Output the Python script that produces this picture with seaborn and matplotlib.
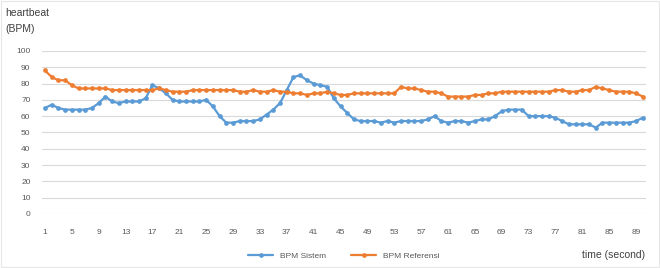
import numpy as np
import pandas as pd
import matplotlib
matplotlib.use("Agg")
import matplotlib.pyplot as plt
import seaborn as sns

# time axis (seconds)
time_sec = list(range(1, 91))

# BPM measured by the system
bpm_sistem = [65, 67, 65, 64, 64, 64, 64, 65, 68, 72,
              69, 68, 69, 69, 69, 71, 79, 77, 74, 70,
              69, 69, 69, 69, 70, 66, 60, 56, 56, 57,
              57, 57, 58, 61, 64, 68, 76, 84, 85, 82,
              80, 79, 78, 71, 66, 62, 58, 57, 57, 57,
              56, 57, 56, 57, 57, 57, 57, 58, 60, 57,
              56, 57, 57, 56, 57, 58, 58, 60, 63, 64,
              64, 64, 60, 60, 60, 60, 59, 57, 55, 55,
              55, 55, 53, 56, 56, 56, 56, 56, 57, 59]

# BPM from the reference device
bpm_referensi = [88, 84, 82, 82, 79, 77, 77, 77, 77, 77,
                 76, 76, 76, 76, 76, 76, 76, 77, 76, 75,
                 75, 75, 76, 76, 76, 76, 76, 76, 76, 75,
                 75, 76, 75, 75, 76, 75, 75, 74, 74, 73,
                 74, 74, 75, 74, 73, 73, 74, 74, 74, 74,
                 74, 74, 74, 78, 77, 77, 76, 75, 75, 74,
                 72, 72, 72, 72, 73, 73, 74, 74, 75, 75,
                 75, 75, 75, 75, 75, 75, 76, 76, 75, 75,
                 76, 76, 78, 77, 76, 75, 75, 75, 74, 72]

x_ticks = list(range(1, 90, 4))
y_ticks = list(range(0, 101, 10))

series_names = ["BPM Sistem", "BPM Referensi"]
colors = ["#5B9BD5", "#ED7D31"]

df = pd.DataFrame({
    "time": time_sec * 2,
    "bpm": bpm_sistem + bpm_referensi,
    "series": [series_names[0]] * len(time_sec) + [series_names[1]] * len(time_sec),
})

sns.set_style("white")
plt.rcParams["font.family"] = ["Liberation Sans", "DejaVu Sans"]

fig = plt.figure(figsize=(6.6, 2.68), dpi=100)
ax = fig.add_axes([0.063, 0.2015, 0.916, 0.6085])

sns.lineplot(
    data=df, x="time", y="bpm", hue="series",
    palette=dict(zip(series_names, colors)),
    marker="o", markersize=3.4, markeredgewidth=0,
    linewidth=1.6, ax=ax, legend=True
)

ax.set_xlim(0.5, 90.5)
ax.set_ylim(0, 100)
ax.set_xticks(x_ticks)
ax.set_yticks(y_ticks)
ax.tick_params(axis="both", labelsize=6, colors="#595959", length=0)
ax.tick_params(axis="x", pad=11)
ax.tick_params(axis="y", pad=8)
ax.yaxis.grid(True, color="#D9D9D9", linewidth=0.8)
ax.set_axisbelow(True)
for s in ax.spines.values():
    s.set_visible(False)
ax.set_xlabel("")
ax.set_ylabel("")

leg = ax.legend(loc="upper center", bbox_to_anchor=(0.5, -0.19), ncol=2,
                frameon=False, fontsize=6, handlelength=3, columnspacing=3)
for t in leg.get_texts():
    t.set_color("#595959")

fig.text(0.008, 0.97, "heartbeat\n(BPM)", fontsize=7.5, color="#404040",
         va="top", ha="left", linespacing=1.8)
fig.text(0.978, 0.03, "time (second)", fontsize=7.5, color="#404040",
         va="bottom", ha="right")

fig.patches.append(plt.Rectangle((0.001, 0.002), 0.997, 0.995, transform=fig.transFigure,
                                 fill=False, edgecolor="#E6E6E6", linewidth=0.8))

fig.savefig("out.png", dpi=100)
